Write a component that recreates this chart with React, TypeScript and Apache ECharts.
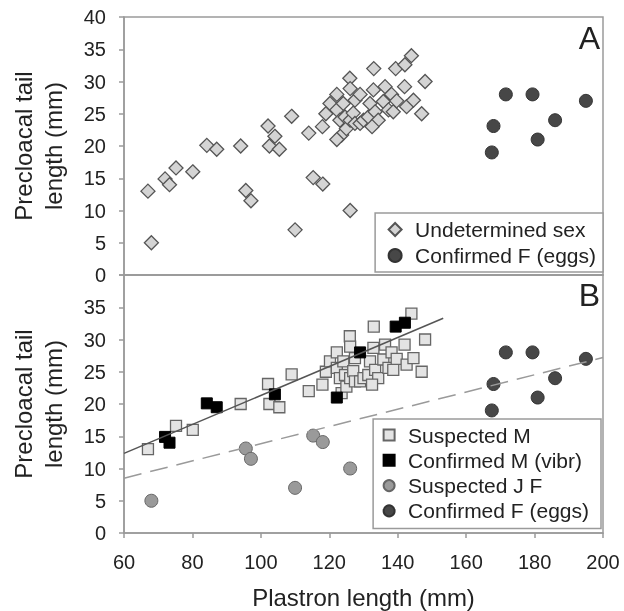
import React, { useEffect, useRef } from "react";
import * as echarts from "echarts";

const xTicks = [60, 80, 100, 120, 140, 160, 180, 200];

const suspectedM: number[][] = [
  [67, 13], [75.2, 16.6], [80.1, 16], [94.1, 20], [102.1, 23.1], [102.5, 20], [105.4, 19.5], [109, 24.6],
  [114, 22], [118, 23], [119, 25], [120.2, 26.6], [122.2, 28], [122.2, 25.6], [123.1, 24], [123.6, 21.7],
  [124.1, 26.6], [124.6, 24.5], [125, 22.7], [126, 30.5], [126.1, 28.9], [126.1, 24], [127, 25.1],
  [127.5, 27.1], [127.5, 23.5], [129, 23.5], [130, 24], [131.4, 24.5], [131.9, 26.6], [133, 32],
  [132.9, 28.7], [133.4, 25.3], [134.3, 24], [132.5, 23], [135.8, 26.9], [136.3, 29.2], [137.3, 25.6],
  [138.2, 28], [138.7, 25.3], [139.7, 27], [142, 29.2], [142.6, 26.1], [144, 34], [144.6, 27.1],
  [147, 25], [148, 30],
];

const confirmedM: number[][] = [
  [72, 14.9], [73.3, 14], [84.2, 20.1], [87.1, 19.5], [104.1, 21.5], [122.2, 21], [129, 28], [139.4, 32], [142.1, 32.6],
];

const suspectedJF: number[][] = [
  [68, 5], [95.6, 13.1], [97.1, 11.5], [110, 7], [115.3, 15.1], [118.1, 14.1], [126.1, 10],
];

const confirmedF: number[][] = [
  [167.5, 19], [168, 23.1], [171.6, 28], [179.4, 28], [180.9, 21], [186, 24], [195, 27],
];

const fitMaleLine: number[][] = [[60, 12.35], [153.3, 33.3]];
const fitFemaleLine: number[][] = [[60, 8.5], [200, 27.2]];

const FONT = "'Liberation Sans', Arial, sans-serif";
const AXIS_COLOR = "#9a9a9a";
const TEXT_COLOR = "#222";

export default function App() {
  const ref = useRef<HTMLDivElement>(null);

  useEffect(() => {
    if (!ref.current) return;
    const chart = echarts.init(ref.current, undefined, { renderer: "svg" });
    const undetermined = [...suspectedM, ...confirmedM, ...suspectedJF];

    const yAxisBase = (gridIndex: number) => ({
      type: "value" as const,
      gridIndex,
      min: 0,
      max: 40,
      interval: 5,
      splitLine: { show: false },
      axisLine: { show: true, lineStyle: { color: AXIS_COLOR, width: 1.5 } },
      axisTick: { show: true, inside: false, length: 5, lineStyle: { color: AXIS_COLOR, width: 1.5 } },
      axisLabel: {
        fontSize: 20,
        color: TEXT_COLOR,
        margin: 18,
        fontFamily: FONT,
        formatter: (v: number) => (gridIndex === 1 && v === 40 ? "" : String(v)),
      },
      name: "Precloacal tail\nlength (mm)",
      nameLocation: "middle" as const,
      nameGap: 56,
      nameTextStyle: { fontSize: 24, lineHeight: 30, color: TEXT_COLOR, fontFamily: FONT },
    });

    const legendBase = {
      orient: "vertical" as const,
      borderColor: AXIS_COLOR,
      borderWidth: 1.5,
      borderRadius: 0,
      backgroundColor: "#fff",
      selectedMode: false,
    };

    chart.setOption({
      animation: false,
      textStyle: { fontFamily: FONT },
      grid: [
        { left: 124, top: 17, width: 479, height: 258, show: true, borderColor: AXIS_COLOR, borderWidth: 1.5, backgroundColor: "transparent" },
        { left: 124, top: 275, width: 479, height: 258, show: true, borderColor: AXIS_COLOR, borderWidth: 1.5, backgroundColor: "transparent" },
      ],
      xAxis: [
        {
          type: "value", gridIndex: 0, min: xTicks[0], max: xTicks[xTicks.length - 1], interval: 20,
          axisLabel: { show: false }, axisTick: { show: false }, splitLine: { show: false },
          axisLine: { show: true, lineStyle: { color: AXIS_COLOR, width: 1.5 } },
        },
        {
          type: "value", gridIndex: 1, min: xTicks[0], max: xTicks[xTicks.length - 1], interval: 20,
          splitLine: { show: false },
          axisLine: { show: true, lineStyle: { color: AXIS_COLOR, width: 1.5 } },
          axisTick: { show: true, length: 5, lineStyle: { color: AXIS_COLOR, width: 1.5 } },
          axisLabel: { fontSize: 20, color: TEXT_COLOR, margin: 19, fontFamily: FONT },
          name: "Plastron length (mm)",
          nameLocation: "middle",
          nameGap: 52,
          nameTextStyle: { fontSize: 24, color: TEXT_COLOR, fontFamily: FONT },
        },
      ],
      yAxis: [yAxisBase(0), yAxisBase(1)],
      legend: [
        {
          ...legendBase, right: 21, top: 213, padding: [6, 7, 6, 12.5],
          itemWidth: 13, itemHeight: 13, itemGap: 5,
          textStyle: { fontSize: 21, color: TEXT_COLOR, fontFamily: FONT, padding: [0, 0, 0, 8.5] },
          data: ["Undetermined sex", "Confirmed F (eggs)"],
        },
        {
          ...legendBase, right: 23, top: 419, padding: [5.5, 12, 7, 9.5],
          itemWidth: 11, itemHeight: 11, itemGap: 4.3,
          textStyle: { fontSize: 21, color: TEXT_COLOR, fontFamily: FONT, padding: [0, 0, 0, 8.5] },
          data: ["Suspected M", "Confirmed M (vibr)", "Suspected J F", "Confirmed F (eggs)"],
        },
      ],
      graphic: [
        { type: "text", right: 24, top: 22, style: { text: "A", fontSize: 32, fill: TEXT_COLOR, fontFamily: FONT } },
        { type: "text", right: 24, top: 279, style: { text: "B", fontSize: 32, fill: TEXT_COLOR, fontFamily: FONT } },
      ],
      series: [
        {
          name: "Undetermined sex", type: "scatter", xAxisIndex: 0, yAxisIndex: 0, data: undetermined,
          symbol: "diamond", symbolSize: 14,
          itemStyle: { color: "#d4d4d4", borderColor: "#555", borderWidth: 1.3, opacity: 1 },
        },
        {
          name: "Confirmed F (eggs)", type: "scatter", xAxisIndex: 0, yAxisIndex: 0, data: confirmedF,
          symbol: "circle", symbolSize: 13,
          itemStyle: { color: "#474747", borderColor: "#333", borderWidth: 1, opacity: 1 },
        },
        {
          name: "Suspected M", type: "scatter", xAxisIndex: 1, yAxisIndex: 1, data: suspectedM,
          symbol: "rect", symbolSize: 11,
          itemStyle: { color: "#e4e4e4", borderColor: "#666", borderWidth: 1.3, opacity: 1 },
        },
        {
          name: "Confirmed M (vibr)", type: "scatter", xAxisIndex: 1, yAxisIndex: 1, data: confirmedM,
          symbol: "rect", symbolSize: 11,
          itemStyle: { color: "#000", borderColor: "#000", borderWidth: 1, opacity: 1 },
        },
        {
          name: "Suspected J F", type: "scatter", xAxisIndex: 1, yAxisIndex: 1, data: suspectedJF,
          symbol: "circle", symbolSize: 13,
          itemStyle: { color: "#9a9a9a", borderColor: "#666", borderWidth: 1, opacity: 1 },
        },
        {
          name: "Confirmed F (eggs)", type: "scatter", xAxisIndex: 1, yAxisIndex: 1, data: confirmedF,
          symbol: "circle", symbolSize: 13,
          itemStyle: { color: "#474747", borderColor: "#333", borderWidth: 1, opacity: 1 },
        },
        {
          name: "fitM", type: "line", xAxisIndex: 1, yAxisIndex: 1, data: fitMaleLine,
          symbol: "none", z: 5, lineStyle: { color: "#555", width: 1.5 },
        },
        {
          name: "fitF", type: "line", xAxisIndex: 1, yAxisIndex: 1, data: fitFemaleLine,
          symbol: "none", z: 5, lineStyle: { color: "#9a9a9a", width: 1.5, type: [18, 9] },
        },
      ],
    });

    return () => chart.dispose();
  }, []);

  return <div ref={ref} style={{ position: "fixed", left: 0, top: 0, width: 624, height: 611 }} />;
}
